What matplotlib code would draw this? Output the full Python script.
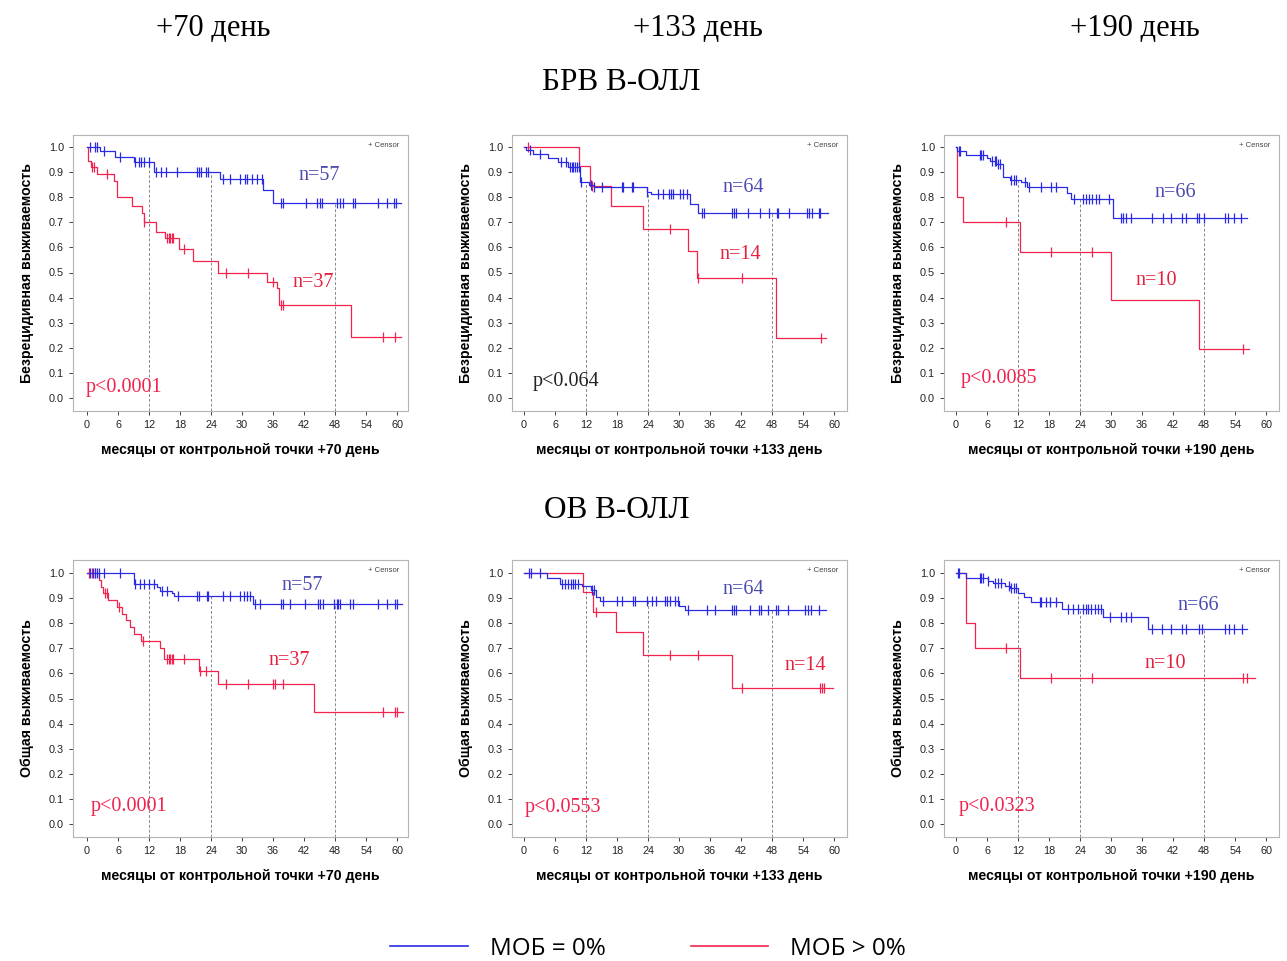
import numpy as np
import matplotlib.pyplot as plt
from matplotlib.lines import Line2D

plt.rcParams['font.family'] = ['Liberation Sans', 'DejaVu Sans']

BLUE = '#2a2ae6'
RED = '#f2234e'

# ---- БРВ, +70 день ----
dfs70_neg_t = [0, 2.6, 5.5, 9.0, 13.0, 25.8, 34.1, 36.0]
dfs70_neg_s = [1.0, 0.984, 0.96, 0.94, 0.90, 0.873, 0.828, 0.775]
dfs70_neg_c = [0.5, 1.5, 2.0, 3.2, 6.3, 9.3, 10.0, 10.5, 11.0, 12.0, 13.3, 14.4, 15.3, 17.5,
               21.2, 21.7, 22.0, 23.0, 23.5, 26.3, 27.7, 29.6, 30.5, 30.9, 31.9, 32.8, 33.8,
               37.5, 38.0, 42.4, 44.4, 45.0, 45.5, 48.4, 48.9, 49.5, 51.4, 51.8, 56.2, 58.0,
               59.4, 59.7]
dfs70_neg_end = 60.8
dfs70_pos_t = [0, 0.2, 0.7, 2.0, 5.3, 5.8, 8.8, 10.6, 11.0, 13.4, 15.1, 17.8, 20.5, 25.4,
               34.8, 36.7, 37.2, 51.0]
dfs70_pos_s = [1.0, 0.946, 0.919, 0.892, 0.865, 0.80, 0.765, 0.736, 0.703, 0.663, 0.637,
               0.594, 0.544, 0.50, 0.464, 0.437, 0.371, 0.245]
dfs70_pos_c = [1.0, 1.3, 3.8, 11.1, 15.5, 15.8, 16.1, 16.4, 16.7, 18.7, 26.9, 31.2, 35.9,
               37.5, 38.0, 57.3, 59.6]
dfs70_pos_end = 60.8

# ---- БРВ, +133 день ----
dfs133_neg_t = [0, 0.3, 1.8, 4.7, 6.6, 8.6, 10.8, 12.6, 13.5, 23.7, 24.5, 32.1, 33.7]
dfs133_neg_s = [1.0, 0.987, 0.971, 0.955, 0.939, 0.922, 0.862, 0.849, 0.842, 0.822, 0.813,
                0.773, 0.736]
dfs133_neg_c = [1.2, 3.1, 7.1, 8.2, 8.9, 9.2, 9.5, 9.9, 10.2, 10.7, 11.1, 13.0, 13.5, 15.0,
                18.9, 19.1, 20.8, 21.1, 23.7, 25.9, 26.8, 28.0, 28.4, 28.9, 30.2, 30.8, 31.6,
                34.5, 34.8, 40.3, 40.7, 41.1, 43.4, 45.7, 47.3, 48.9, 49.2, 51.2, 54.7, 55.2,
                55.7, 57.0, 57.3]
dfs133_neg_end = 58.8
dfs133_pos_t = [0, 10.7, 12.8, 16.8, 23.0, 31.8, 33.5, 48.8]
dfs133_pos_s = [1.0, 0.926, 0.846, 0.765, 0.674, 0.584, 0.48, 0.239]
dfs133_pos_c = [0.8, 13.2, 28.2, 33.7, 42.1, 57.5]
dfs133_pos_end = 58.4

# ---- БРВ, +190 день ----
dfs190_neg_t = [0, 0.1, 1.9, 5.9, 6.5, 7.8, 9.0, 10.5, 12.6, 13.7, 21.5, 22.3, 30.3]
dfs190_neg_s = [1.0, 0.984, 0.968, 0.955, 0.944, 0.932, 0.882, 0.869, 0.862, 0.842, 0.816,
                0.793, 0.719]
dfs190_neg_c = [0.5, 0.8, 4.6, 4.9, 5.3, 6.9, 7.5, 7.7, 8.1, 8.5, 10.7, 11.2, 11.7, 13.3,
                14.1, 16.5, 18.4, 19.4, 22.9, 24.5, 25.2, 25.8, 26.3, 27.0, 27.7, 29.5, 31.9,
                32.3, 32.9, 33.8, 38.0, 40.0, 41.5, 43.8, 44.4, 46.7, 47.0, 47.9, 52.1, 52.6,
                53.7, 55.2]
dfs190_neg_end = 56.3
dfs190_pos_t = [0, 0.1, 0.2, 1.3, 12.3, 30.0, 47.0]
dfs190_pos_s = [1.0, 0.9, 0.8, 0.7, 0.583, 0.389, 0.195]
dfs190_pos_c = [9.6, 18.3, 26.3, 55.6]
dfs190_pos_end = 56.6

# ---- ОВ, +70 день ----
os70_neg_t = [0, 9.1, 13.5, 14.2, 16.4, 16.9, 32.2]
os70_neg_s = [1.0, 0.958, 0.944, 0.93, 0.921, 0.91, 0.878]
os70_neg_c = [0.6, 1.2, 1.5, 1.9, 2.4, 3.2, 6.3, 9.3, 10.3, 11.1, 11.9, 13.0, 14.5, 15.5,
              17.6, 21.2, 21.7, 23.2, 23.5, 26.3, 27.7, 29.6, 30.3, 30.9, 31.6, 32.5, 33.5,
              37.5, 38.0, 39.3, 42.2, 44.6, 45.0, 45.6, 47.8, 48.3, 48.6, 48.9, 50.9, 51.4,
              56.2, 58.0, 59.6, 59.9]
os70_neg_end = 61.0
os70_pos_t = [0, 2.3, 2.7, 3.0, 4.0, 5.8, 6.8, 7.5, 8.3, 9.0, 10.5, 14.2, 14.9, 21.6, 25.4,
              44.0]
os70_pos_s = [1.0, 0.973, 0.946, 0.919, 0.892, 0.865, 0.838, 0.811, 0.784, 0.757, 0.73, 0.70,
              0.656, 0.61, 0.556, 0.445]
os70_pos_c = [0.3, 1.0, 1.6, 3.5, 3.9, 6.1, 10.9, 15.5, 15.8, 16.1, 16.4, 16.7, 18.7, 21.8,
              23.1, 26.9, 31.2, 35.9, 36.4, 37.9, 57.3, 59.6, 59.9]
os70_pos_end = 61.2

# ---- ОВ, +133 день ----
os133_neg_t = [0, 4.5, 7.0, 11.3, 12.9, 14.0, 14.7, 30.0, 31.1]
os133_neg_s = [1.0, 0.98, 0.958, 0.947, 0.931, 0.905, 0.889, 0.868, 0.852]
os133_neg_c = [1.0, 1.3, 3.1, 7.3, 8.0, 8.6, 9.0, 9.5, 9.9, 10.5, 13.1, 13.5, 15.2, 17.9,
               18.9, 21.0, 21.4, 23.7, 24.7, 25.5, 27.3, 27.6, 28.2, 29.2, 29.8, 31.8, 35.3,
               36.9, 40.3, 40.6, 41.1, 43.7, 45.5, 45.9, 47.2, 48.8, 49.2, 51.1, 54.3, 55.0,
               55.6, 57.1]
os133_neg_end = 58.5
os133_pos_t = [0, 11.5, 13.3, 17.7, 23.1, 40.3]
os133_pos_s = [1.0, 0.925, 0.845, 0.766, 0.673, 0.54]
os133_pos_c = [13.9, 28.2, 33.7, 42.1, 57.3, 57.7, 58.0]
os133_pos_end = 59.8

# ---- ОВ, +190 день ----
os190_neg_t = [0, 1.9, 6.2, 7.2, 9.4, 10.4, 12.0, 13.1, 14.6, 20.5, 28.4, 37.2]
os190_neg_s = [1.0, 0.98, 0.97, 0.96, 0.95, 0.94, 0.921, 0.905, 0.886, 0.858, 0.825, 0.775]
os190_neg_c = [0.3, 0.6, 4.6, 4.9, 5.3, 6.2, 7.5, 8.2, 8.8, 10.3, 10.7, 11.2, 11.7, 16.2,
               16.5, 17.5, 18.1, 19.4, 21.6, 22.6, 23.6, 24.5, 25.2, 25.5, 26.2, 26.8, 27.5,
               28.1, 29.7, 31.9, 32.9, 33.8, 38.0, 39.9, 41.5, 43.8, 44.4, 47.0, 47.6, 52.1,
               52.8, 53.7, 55.3]
os190_neg_end = 56.3
os190_pos_t = [0, 1.9, 3.7, 12.3]
os190_pos_s = [1.0, 0.8, 0.7, 0.583]
os190_pos_c = [9.6, 18.4, 26.3, 55.6, 56.3]
os190_pos_end = 57.9

days = ['+70 день', '+133 день', '+190 день']
n_neg = ['n=57', 'n=64', 'n=66']
n_pos = ['n=37', 'n=14', 'n=10']
p_dfs = ['p<0.0001', 'p<0.064', 'p<0.0085']
p_os = ['p<0.0001', 'p<0.0553', 'p<0.0323']
xticks = np.arange(0, 61, 6)
yticks = np.round(np.arange(0, 1.01, 0.1), 1)

panels = [
    (dfs70_neg_t, dfs70_neg_s, dfs70_neg_c, dfs70_neg_end, dfs70_pos_t, dfs70_pos_s, dfs70_pos_c, dfs70_pos_end),
    (dfs133_neg_t, dfs133_neg_s, dfs133_neg_c, dfs133_neg_end, dfs133_pos_t, dfs133_pos_s, dfs133_pos_c, dfs133_pos_end),
    (dfs190_neg_t, dfs190_neg_s, dfs190_neg_c, dfs190_neg_end, dfs190_pos_t, dfs190_pos_s, dfs190_pos_c, dfs190_pos_end),
    (os70_neg_t, os70_neg_s, os70_neg_c, os70_neg_end, os70_pos_t, os70_pos_s, os70_pos_c, os70_pos_end),
    (os133_neg_t, os133_neg_s, os133_neg_c, os133_neg_end, os133_pos_t, os133_pos_s, os133_pos_c, os133_pos_end),
    (os190_neg_t, os190_neg_s, os190_neg_c, os190_neg_end, os190_pos_t, os190_pos_s, os190_pos_c, os190_pos_end),
]

# text positions in data coords (n labels, p value)
n_neg_xy = [(44.9, 0.888), (42.4, 0.837), (42.5, 0.82), (41.6, 0.95), (42.4, 0.936), (46.9, 0.87)]
n_pos_xy = [(43.7, 0.462), (41.8, 0.57), (38.8, 0.47), (39.1, 0.65), (54.4, 0.633), (40.4, 0.64)]
p_xy = [(-0.2, 0.04), (1.7, 0.064), (1.0, 0.076), (0.8, 0.068), (0.2, 0.064), (0.6, 0.068)]
p_col = [RED, '#222222', RED, RED, RED, RED]

W, H = 1287, 961
fig = plt.figure(figsize=(W / 100, H / 100), dpi=100)

lefts = [73, 512, 944]
x0_pix = [87, 524, 956]
ppm = 5.17  # pixels per month


def step_vals(t, s, c):
    idx = np.searchsorted(t, c, side='right') - 1
    return np.array(s)[idx]


def km(ax, t, s, c, end, col):
    tt = list(t) + [end]
    ss = list(s) + [s[-1]]
    ax.step(tt, ss, where='post', color=col, lw=0.9)
    ax.plot(c, step_vals(t, s, c), ls='none', marker='|', ms=7, mew=0.9, color=col)


for i, pan in enumerate(panels):
    row, col = divmod(i, 3)
    top_pix = 135 if row == 0 else 560
    bot_pix = 411 if row == 0 else 837
    y1_pix = 147 if row == 0 else 573
    y0_pix = 398 if row == 0 else 824
    ax = fig.add_axes([lefts[col] / W, 1 - bot_pix / H, 335 / W, (bot_pix - top_pix) / H])
    upp = 1.0 / (y0_pix - y1_pix)
    ax.set_ylim(-(bot_pix - y0_pix) * upp, 1 + (y1_pix - top_pix) * upp)
    ax.set_xlim(-(x0_pix[col] - lefts[col]) / ppm, (lefts[col] + 335 - x0_pix[col]) / ppm)

    nt, ns, nc, nend, pt, ps, pc, pend = pan
    # reference lines at 12, 24, 48 months up to the MRD-negative curve
    for xv in [12, 24, 48]:
        yv = step_vals(nt, ns, [xv])[0]
        ax.plot([xv, xv], [ax.get_ylim()[0], yv], ls=(0, (3, 2)), color='#888888', lw=0.7)
    km(ax, pt, ps, pc, pend, RED)
    km(ax, nt, ns, nc, nend, BLUE)

    ax.set_xticks(xticks)
    ax.set_yticks(yticks)
    ax.set_yticklabels([f'{v:.1f}' for v in yticks])
    ax.tick_params(labelsize=7.8, colors='#222222', length=3, width=0.6)
    for sp in ax.spines.values():
        sp.set_color('#b5b5b5')
        sp.set_linewidth(0.8)

    ylab = 'Безрецидивная выживаемость' if row == 0 else 'Общая выживаемость'
    ax.text(-46 / 335, 0.5, ylab, transform=ax.transAxes, rotation=90, ha='center', va='center',
            fontsize=10.2, fontweight='bold')
    ax.text(0.5, -39 / (bot_pix - top_pix), 'месяцы от контрольной точки ' + days[col],
            transform=ax.transAxes, ha='center', va='center', fontsize=10.2, fontweight='bold')
    ax.text(0.975, 0.975, '+ Censor', transform=ax.transAxes, ha='right', va='top',
            fontsize=5.5, color='#444444')

    ax.text(*n_neg_xy[i], n_neg[col], family='Liberation Serif', fontsize=14.5, color='#4a4ab0',
            ha='center', va='center')
    ax.text(*n_pos_xy[i], n_pos[col], family='Liberation Serif', fontsize=14.5, color='#e5203f',
            ha='center', va='center')
    pv = p_dfs[col] if row == 0 else p_os[col]
    ax.text(*p_xy[i], pv, family='Liberation Serif', fontsize=14.5, color=p_col[i],
            ha='left', va='center')

for col, cx in enumerate([213, 698, 1135]):
    fig.text(cx / W, 1 - 28 / H, days[col], family='Liberation Serif', fontsize=22,
             ha='center', va='center')
fig.text(621 / W, 1 - 83 / H, 'БРВ В-ОЛЛ', family='Liberation Serif', fontsize=22.5,
         ha='center', va='center')
fig.text(617 / W, 1 - 510 / H, 'ОВ В-ОЛЛ', family='Liberation Serif', fontsize=22.5,
         ha='center', va='center')

handles = [Line2D([], [], color=BLUE, lw=1.2), Line2D([], [], color=RED, lw=1.2)]
fig.legend(handles, ['МОБ = 0%', 'МОБ > 0%'], loc='center', bbox_to_anchor=(648 / W, 1 - 949 / H),
           ncol=2, frameon=False, handlelength=3.2, handletextpad=0.9, columnspacing=3.5,
           prop={'family': 'Open Sans', 'size': 17.5})

fig.savefig('out.png', dpi=100)
